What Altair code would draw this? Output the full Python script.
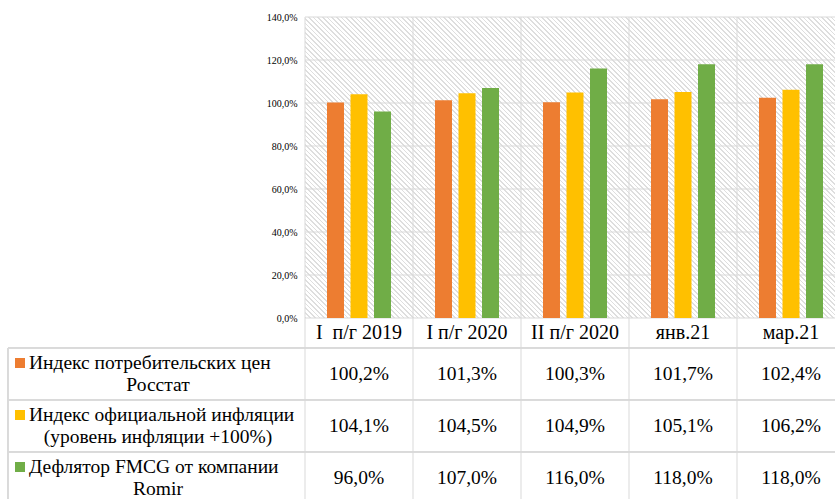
import altair as alt
import pandas as pd

categories = ["I\u00a0 п/г 2019", "I п/г 2020", "II п/г 2020", "янв.21", "мар.21"]
series_keys = ["cpi", "infl", "fmcg"]
series_labels = [
    "Индекс потребительских цен\nРосстат",
    "Индекс официальной инфляции\n(уровень инфляции +100%)",
    "Дефлятор FMCG от компании\nRomir",
]
cpi = [100.2, 101.3, 100.3, 101.7, 102.4]
infl = [104.1, 104.5, 104.9, 105.1, 106.2]
fmcg = [96.0, 107.0, 116.0, 118.0, 118.0]
colors = ["#ED7D31", "#FFC000", "#70AD47"]
y_ticks = [0, 20, 40, 60, 80, 100, 120, 140]

rows = []
for key, vals in zip(series_keys, [cpi, infl, fmcg]):
    for c, v in zip(categories, vals):
        rows.append({"cat": c, "series": key, "value": v,
                     "label": f"{v:.1f}".replace(".", ",") + "%"})
df = pd.DataFrame(rows)
cat_df = pd.DataFrame({"cat": categories})
ser_df = pd.DataFrame({"series": series_keys,
                       "line1": [s.split("\n")[0] for s in series_labels],
                       "line2": [s.split("\n")[1] for s in series_labels]})
tick_df = pd.DataFrame({"tick": y_ticks})

FONT = "Liberation Serif"
GRID = "#d9d9d9"
W, H = 530, 301
LEFT = 305

# diagonal hatch for the plot background (style only)
r = H / W
tmax = (1 + r) / (1 + r * r)
L = (W + H) / 2 ** 0.5
P, SW = 3.3, 1.3
HATCH = "#dedede"
stops = []
k = 0
while k * P < L:
    a = k * P / L
    b = min((k * P + SW) / L, 1.0)
    stops += [alt.GradientStop(offset=a, color="#ffffff"), alt.GradientStop(offset=a, color=HATCH),
              alt.GradientStop(offset=b, color=HATCH), alt.GradientStop(offset=b, color="#ffffff")]
    k += 1
hatch = alt.LinearGradient(gradient="linear", stops=stops, x1=0, y1=1, x2=tmax, y2=1 - tmax * r)

xscale = alt.Scale(type="band", domain=categories, range=[0, 540], paddingInner=0, paddingOuter=0)
rowscale = alt.Scale(type="band", domain=series_keys, range=[331, 487], paddingInner=0, paddingOuter=0)
colscale = alt.Scale(domain=series_keys, range=colors)

bg = alt.Chart(tick_df.head(1)).mark_rect(color=hatch).encode(
    x=alt.value(0), x2=alt.value(W), y=alt.value(0), y2=alt.value(H))

hgrid = alt.Chart(tick_df).mark_rule(color=GRID, strokeWidth=1).encode(
    y=alt.Y("tick:Q", scale=alt.Scale(domain=[0, 140]), axis=None),
    x=alt.value(0), x2=alt.value(W))

vlines = alt.Chart(cat_df).mark_rule(color=GRID, strokeWidth=1).encode(
    x=alt.X("cat:N", scale=xscale, axis=None, bandPosition=0),
    y=alt.value(0), y2=alt.value(487),
)

bars = alt.Chart(df).mark_bar().encode(
    x=alt.X("cat:N", scale=xscale, axis=None),
    xOffset=alt.XOffset("series:N", scale=alt.Scale(domain=series_keys, paddingInner=0.277, paddingOuter=0.936)),
    y=alt.Y("value:Q", scale=alt.Scale(domain=[0, 140]),
            axis=alt.Axis(values=y_ticks, grid=False,
                          ticks=False, domain=False, labelPadding=8,
                          labelFont=FONT, labelFontSize=10, labelColor="#000000",
                          labelExpr="replace(format(datum.value, '.1f'), '.', ',') + '%'",
                          title=None)),
    color=alt.Color("series:N", scale=colscale, legend=None),
)

def hrule(y, x1, x2):
    return alt.Chart(cat_df).mark_rule(color=GRID, strokeWidth=1).encode(
        x=alt.value(x1), x2=alt.value(x2), y=alt.value(y))

table_lines = [hrule(331, -297, W), hrule(383, -297, W), hrule(435, -297, W)]
left_border = alt.Chart(cat_df).mark_rule(color=GRID, strokeWidth=1).encode(
    x=alt.value(-297), y=alt.value(331), y2=alt.value(487))

cat_text = alt.Chart(cat_df).mark_text(font=FONT, fontSize=20, color="#000000", baseline="middle").encode(
    x=alt.X("cat:N", scale=xscale, axis=None),
    y=alt.value(316),
    text="cat:N",
)

val_text = alt.Chart(df).mark_text(font=FONT, fontSize=19.5, color="#000000", baseline="middle").encode(
    x=alt.X("cat:N", scale=xscale, axis=None),
    y=alt.Y("series:N", scale=rowscale, axis=None),
    text="label:N",
)

leg_line1 = alt.Chart(ser_df).mark_text(font=FONT, fontSize=19.5, color="#000000", baseline="middle",
                                        align="left", dy=-11).encode(
    x=alt.value(-276),
    y=alt.Y("series:N", scale=rowscale, axis=None),
    text="line1:N",
)
leg_line2 = alt.Chart(ser_df).mark_text(font=FONT, fontSize=19.5, color="#000000", baseline="middle",
                                        align="center", dy=11).encode(
    x=alt.value(-147),
    y=alt.Y("series:N", scale=rowscale, axis=None),
    text="line2:N",
)

markers = alt.Chart(ser_df).mark_square(size=100, opacity=1, yOffset=-11).encode(
    x=alt.value(-285),
    y=alt.Y("series:N", scale=rowscale, axis=None),
    color=alt.Color("series:N", scale=colscale, legend=None),
)

chart = alt.layer(bg, hgrid, vlines, bars, *table_lines, left_border, cat_text, val_text,
                  leg_line1, leg_line2, markers).resolve_scale(
    y="independent"
).properties(
    width=W, height=H,
    autosize=alt.AutoSizeParams(type="none"),
    padding={"left": LEFT, "top": 17, "right": 0, "bottom": 181},
    background="white",
).configure_view(fill="white", stroke=None)

chart.save("out.html", embed_options={"renderer": "svg", "actions": False})
